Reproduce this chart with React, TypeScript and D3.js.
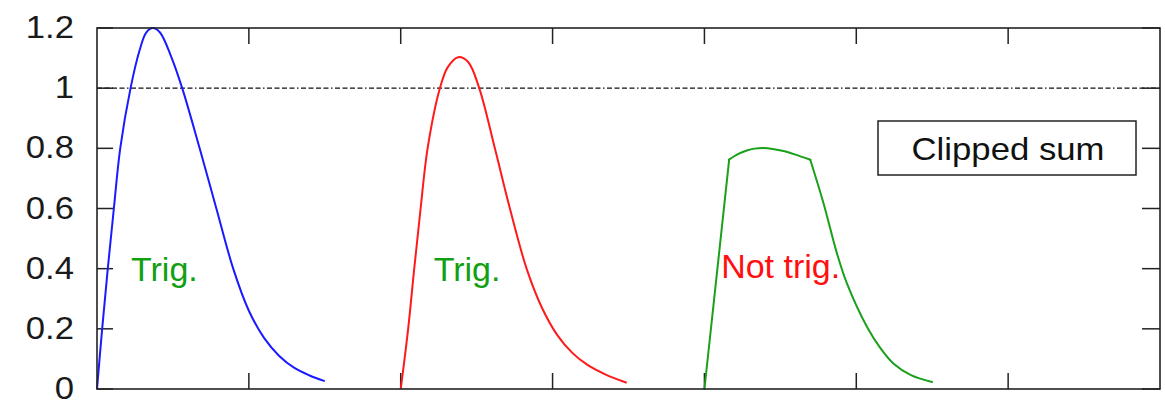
import React from 'react'
import * as d3 from 'd3'

const W = 1165
const H = 403
const M = { top: 28, right: 5, bottom: 14, left: 97 }

// pulse samples: [time, amplitude]
const bluePulse: [number, number][] = [
  [0, 0], [0.034, 0.2], [0.071, 0.4], [0.111, 0.6], [0.153, 0.8], [0.221, 1.0],
  [0.28, 1.125], [0.324, 1.185], [0.368, 1.2], [0.415, 1.185], [0.489, 1.104],
  [0.561, 1.0], [0.676, 0.8], [0.786, 0.6], [0.897, 0.4], [1.0, 0.26],
  [1.1, 0.17], [1.2, 0.11], [1.3, 0.07], [1.4, 0.045], [1.5, 0.026]
]
const redPulse: [number, number][] = [
  [2.0, 0], [2.049, 0.2], [2.089, 0.4], [2.131, 0.6], [2.177, 0.8], [2.258, 1.0],
  [2.31, 1.07], [2.378, 1.103], [2.444, 1.087], [2.517, 1.0], [2.62, 0.8],
  [2.719, 0.6], [2.829, 0.4], [2.93, 0.27], [3.03, 0.18], [3.13, 0.12],
  [3.23, 0.08], [3.35, 0.048], [3.488, 0.021]
]
const greenPulse: [number, number][] = [
  [4.0, 0], [4.163, 0.763], [4.22, 0.781], [4.279, 0.793], [4.33, 0.799],
  [4.389, 0.801], [4.45, 0.798], [4.521, 0.791], [4.6, 0.779], [4.697, 0.762],
  [4.785, 0.616], [4.873, 0.45], [4.939, 0.35], [5.071, 0.206], [5.16, 0.135],
  [5.246, 0.084], [5.36, 0.046], [5.499, 0.023]
]
// the clipped sum has corners where the clipping kicks in / stops
const greenCorners = [1, 9]

const threshold = 1
const yTicks = [0, 0.2, 0.4, 0.6, 0.8, 1, 1.2]
const yTickLabels = ['0', '0.2', '0.4', '0.6', '0.8', '1', '1.2']
const xTicks = [1, 2, 3, 4, 5, 6]

const annotations = [
  { text: 'Trig.', x: 0.224, y: 0.36, color: '#11a011' },
  { text: 'Trig.', x: 2.217, y: 0.36, color: '#11a011' },
  { text: 'Not trig.', x: 4.11, y: 0.368, color: '#ff1010' }
]
const legendLabel = 'Clipped sum'

const App = () => {
  const x = d3.scaleLinear().domain([0, 7]).range([M.left, W - M.right])
  const y = d3.scaleLinear().domain([0, 1.2]).range([H - M.bottom, M.top])

  const smooth = d3
    .line<[number, number]>()
    .x(d => x(d[0]))
    .y(d => y(d[1]))
    .curve(d3.curveCatmullRom.alpha(0.5))
  const straight = d3
    .line<[number, number]>()
    .x(d => x(d[0]))
    .y(d => y(d[1]))

  const greenSegs = [
    straight(greenPulse.slice(0, greenCorners[0] + 1)),
    smooth(greenPulse.slice(greenCorners[0], greenCorners[1] + 1)),
    smooth(greenPulse.slice(greenCorners[1]))
  ]

  const font = '"Liberation Sans", Arial, Helvetica, sans-serif'
  const x0 = x(0)
  const x1 = x(7)
  const y0 = y(0)
  const y1 = y(1.2)
  const tick = 16

  return (
    <svg
      width={W}
      height={H}
      style={{ position: 'absolute', left: 0, top: 0, background: '#fff' }}
      fontFamily={font}
    >
      {/* threshold */}
      <line
        x1={x0}
        x2={x1}
        y1={y(threshold)}
        y2={y(threshold)}
        stroke="#111"
        strokeWidth={1.1}
        strokeDasharray="5,2.5,5,2.5,5,2.5,5,2.5,1.5,2.5"
      />

      {/* ticks */}
      {yTicks.map(t => (
        <g key={'y' + t} stroke="#222" strokeWidth={1.5}>
          <line x1={x0} x2={x0 + tick} y1={y(t)} y2={y(t)} />
          <line x1={x1} x2={x1 - tick - 2} y1={y(t)} y2={y(t)} />
        </g>
      ))}
      {xTicks.map(t => (
        <g key={'x' + t} stroke="#222" strokeWidth={1.5}>
          <line x1={x(t)} x2={x(t)} y1={y0} y2={y0 - tick} />
          <line x1={x(t)} x2={x(t)} y1={y1} y2={y1 + tick} />
        </g>
      ))}

      {yTicks.map((t, i) => (
        <text
          key={'yl' + t}
          transform={`translate(74,${y(t) + 10}) scale(1.12,1)`}
          textAnchor="end"
          fontSize={31}
          fill="#1a1a1a"
        >
          {yTickLabels[i]}
        </text>
      ))}

      {/* pulses */}
      <path d={smooth(bluePulse) ?? ''} fill="none" stroke="#1a1aff" strokeWidth={2} />
      <path d={smooth(redPulse) ?? ''} fill="none" stroke="#ff1a1a" strokeWidth={2} />
      {greenSegs.map((d, i) => (
        <path key={'g' + i} d={d ?? ''} fill="none" stroke="#1aa01a" strokeWidth={2} strokeLinejoin="round" strokeLinecap="round" />
      ))}

      {annotations.map((a, i) => (
        <text key={'a' + i} x={x(a.x)} y={y(a.y)} fontSize={34} fill={a.color}>
          {a.text}
        </text>
      ))}

      {/* legend */}
      <rect x={878} y={121} width={258} height={54} fill="#fff" stroke="#222" strokeWidth={1.5} />
      <text
        transform={`translate(1008,160) scale(1.12,1)`}
        textAnchor="middle"
        fontSize={31}
        fill="#111"
      >
        {legendLabel}
      </text>

      {/* frame */}
      <rect x={x0} y={y1} width={x1 - x0} height={y0 - y1} fill="none" stroke="#222" strokeWidth={1.6} />
    </svg>
  )
}

export default App
